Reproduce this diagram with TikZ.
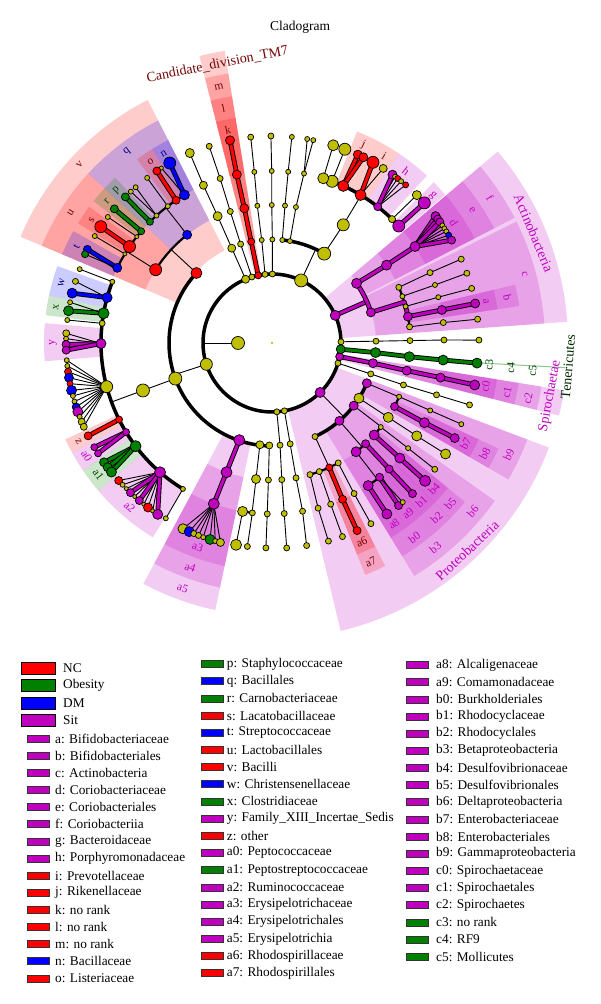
\documentclass[tikz,border=0pt]{standalone}
\usepackage{fontspec}
\setmainfont{Liberation Serif}
\pgfdeclarelayer{sect}
\pgfdeclarelayer{edges}
\pgfsetlayers{sect,edges,main}
\definecolor{cy}{rgb}{0.75,0.75,0}
\definecolor{cr}{rgb}{1,0,0}
\definecolor{cg}{rgb}{0,0.5,0}
\definecolor{cb}{rgb}{0,0,1}
\definecolor{cp}{rgb}{0.75,0,0.75}
\definecolor{lr}{rgb}{0.45,0.02,0.02}
\definecolor{lg}{rgb}{0,0.28,0}
\definecolor{lb}{rgb}{0,0,0.55}
\tikzset{
 nd/.style={circle,draw=black,line width=0.7pt,inner sep=0pt},
 ed/.style={line width=0.9pt,black},
 ak/.style={line width=3.5pt,black},
 am/.style={line width=2.2pt,black},
 lab/.style={inner sep=0pt,font=\fontsize{11.5}{11.5}\selectfont},
 plab/.style={inner sep=0pt,font=\fontsize{14}{14}\selectfont},
 sw/.style={draw=black!80,line width=0.6pt,minimum width=22pt,minimum height=7pt,inner sep=0pt},
 bsw/.style={draw=black,line width=0.6pt,minimum width=34pt,minimum height=12pt,inner sep=0pt},
 lt/.style={anchor=west,inner sep=0pt,font=\fontsize{13.3}{13.3}\selectfont},
}
\newcommand\clN[5]{\node[nd,fill=#1,minimum size=#4 pt] (#5) at (#2:#3) {};}
\newcommand\clC[2]{\draw[line width=4.8pt,black,line join=round] #2; \draw[line width=3pt,#1,line join=round] #2;}
\newcommand\clS[5]{\fill[#1,fill opacity=0.2] (#2:#4) arc[start angle=#2,end angle=#3,radius=#4] -- (#3:#5) arc[start angle=#3,end angle=#2,radius=#5] -- cycle;}
\newcommand\clA[4]{\draw[#1] (#2:#4) arc[start angle=#2,end angle=#3,radius=#4];}
\newcommand\clL[6]{\node[lab,text=#1,rotate=#4] (#6) at (#2:#3) {#5};}
\begin{document}
\begin{tikzpicture}[x=1pt,y=1pt]
\useasboundingbox (0,0) rectangle (600,1004);
\node[inner sep=0pt,font=\fontsize{13.5}{13.5}\selectfont] (title) at (300,977) {Cladogram};
\begin{scope}[shift={(272,661)}]
% ---------------- nodes ----------------
\node[circle,fill=cy,minimum size=2.5pt,inner sep=0pt] (root) at (0,0) {};
\clN{cy}{180}{34}{13}{king}
% phyla
\clN{cy}{198}{69}{12}{firm}
\clN{cy}{274}{69}{6}{pA}
\clN{cy}{280.4}{69}{6}{pB}
\clN{cp}{314.2}{69}{10}{prot}
\clN{cy}{343}{69}{6}{pC}
\clN{cp}{348.6}{69}{8}{spir}
\clN{cg}{354.8}{69}{9}{tene}
\clN{cy}{1}{69}{6}{pD}
\clN{cp}{23.6}{69}{10}{acti}
\clN{cy}{65}{69}{13}{bact}
\clN{cy}{89.7}{69}{6}{pE}
\clN{cy}{95.8}{69}{6}{pF}
\clN{cr}{101.5}{69}{7}{tm7}
\clN{cy}{107}{69}{6}{pG}
\clN{cy}{112.5}{69}{8}{pH}
% Firmicutes classes
\clN{cr}{137.2}{103}{11}{bacil}
\clN{cy}{200.2}{103}{13}{clos}
\clN{cp}{251.4}{102.5}{11}{erys}
\clN{cy}{263.2}{102.5}{8}{nega}
\clN{cy}{268.5}{102.5}{7}{fcE}
% Bacilli
\clN{cb}{128.1}{137.5}{9}{qo}
\clN{cr}{147.8}{137.5}{12}{uo}
\clN{cb}{120.6}{172}{10}{nf} \clN{cb}{119.6}{207}{12}{nl1} \clN{cy}{122.3}{207}{4}{nl2}
\clN{cr}{123.9}{172}{8}{of} \clN{cr}{123.8}{207}{8}{ol}
\clN{cy}{127.3}{172}{5}{qf3} \clN{cy}{127.1}{207}{5}{qf3l}
\clN{cy}{132.2}{172}{5}{qf4} \clN{cy}{131.2}{207}{5}{qf4a} \clN{cy}{133}{207}{5}{qf4b}
\clN{cg}{135.2}{172}{7}{pf} \clN{cg}{135.1}{207}{8}{pl}
\clN{cg}{139.5}{172}{7}{rf} \clN{cg}{139.6}{207}{8}{rl}
\clN{cy}{141.8}{172}{4}{uf2} \clN{cy}{142.5}{207}{5}{uf2l}
\clN{cr}{145.9}{172}{12}{sf} \clN{cr}{145.8}{207}{12}{sl}
\clN{cy}{148.8}{172}{4}{uf4} \clN{cy}{148.9}{207}{5}{uf4l}
\clN{cb}{154.1}{172}{9}{tf} \clN{cb}{153.1}{207}{8}{tl1} \clN{cg}{154.6}{207}{7}{tl2}
% Clostridiales
\clN{cy}{200.2}{137.5}{13}{clo}
\clN{cy}{159}{171}{5}{cf1} \clN{cy}{159}{206}{5}{cf1l}
\clN{cb}{164.6}{171}{10}{wf} \clN{cy}{162.6}{206}{6}{wl1} \clN{cb}{166}{206}{10}{wl2}
\clN{cg}{170}{171}{11}{xf} \clN{cy}{168.6}{206}{5}{xl1} \clN{cg}{171}{206}{10}{xl2}
\clN{cy}{173.4}{171}{6}{cf4} \clN{cy}{173.6}{206}{5}{cf4l}
\clN{cp}{180.2}{171}{10}{yf} \clN{cy}{177.3}{206}{7}{yl1} \clN{cy}{178.8}{206}{5}{yl2} \clN{cp}{180.4}{206}{8}{yl3} \clN{cp}{182}{206}{8}{yl4}
\clN{cy}{194.8}{171}{12}{lach}
\foreach \a/\c/\d [count=\i] in {184.8/cy/5,186.4/cy/5,188/cr/7,189.7/cb/9,191.4/cr/6,193.3/cb/10,194.9/cy/5,196.5/cy/5,198.1/cb/8,199.5/cp/10,201/cy/5,202.5/cy/7,204/cy/7} {\clN{\c}{\a}{206}{\d}{lachl\i}}
\clN{cr}{206.6}{171}{7}{zf} \clN{cr}{206.8}{206}{8}{zl}
\clN{cp}{211.4}{171}{7}{a0f} \clN{cp}{210.4}{206}{7}{a0la} \clN{cp}{212.4}{206}{7}{a0lb}
\clN{cg}{217.1}{171}{11}{a1f} \clN{cg}{215.4}{206}{9}{a1la} \clN{cg}{217.1}{206}{9}{a1lb} \clN{cg}{218.8}{206}{10}{a1lc}
\clN{cp}{229.1}{171}{11}{a2f}
\foreach \a/\c/\d [count=\i] in {221.9/cr/8,223.5/cy/5,225/cy/4,226.6/cp/8,228.2/cy/4,229.9/cp/8,231.5/cy/4,233/cr/9,234.6/cy/4,236.3/cp/10} {\clN{\c}{\a}{206}{\d}{a2l\i}}
\clN{cy}{238.6}{171}{5}{cf11} \clN{cy}{238.8}{205}{5}{cf11l}
% Erysipelotrichia
\clN{cp}{250.6}{137}{11}{a4o} \clN{cp}{250.1}{171}{11}{a3f}
\foreach \a/\c/\d [count=\i] in {244.4/cy/10,246.3/cb/10,247.7/cy/6,249.1/cy/6,250.5/cy/5,252.5/cg/10,254/cy/5,255.5/cy/8} {\clN{\c}{\a}{206}{\d}{a3l\i}}
% Negativicutes etc
\clN{cy}{263.3}{137}{9}{ngo} \clN{cy}{260.1}{171}{10}{ngf1} \clN{cy}{259.9}{205}{11}{ngl1} \clN{cy}{263.4}{171}{6}{ngf2} \clN{cy}{263.1}{205}{6}{ngl2}
\clN{cy}{268.5}{137}{6}{fcEo} \clN{cy}{268.4}{171}{6}{fcEf} \clN{cy}{268.3}{205}{6}{fcEl}
\clN{cy}{274.5}{102.5}{6}{pAc} \clN{cy}{274.1}{137}{6}{pAo} \clN{cy}{274.1}{171}{6}{pAf} \clN{cy}{274.1}{205.5}{6}{pAl}
\clN{cy}{280.2}{102.5}{6}{pBc} \clN{cy}{280.1}{137}{6}{pBo} \clN{cy}{280.3}{171}{6}{pBf} \clN{cy}{279.7}{205.5}{6}{pBl}
% Proteobacteria
\clN{cy}{294.7}{103}{6}{alp}
\clN{cp}{310.9}{103}{9}{bet}
\clN{cp}{322.5}{103}{9}{del}
\clN{cy}{327.6}{103}{10}{pq}
\clN{cp}{337}{103}{9}{gam}
\clN{cy}{286.1}{137}{6}{al1} \clN{cy}{285.6}{171.5}{6}{al1f} \clN{cy}{285.9}{206}{6}{al1l}
\clN{cy}{290.2}{137}{6}{al2} \clN{cy}{290}{171.5}{6}{al2f} \clN{cy}{290}{206}{6}{al2l}
\clN{cr}{294.7}{137}{7}{a7o} \clN{cr}{294.3}{171.5}{8}{a6f} \clN{cr}{294.4}{206}{8}{a6l}
\clN{cy}{298.9}{137}{6}{al4} \clN{cy}{298.6}{171.5}{6}{al4f} \clN{cy}{298.7}{206}{6}{al4l}
\clN{cp}{307.7}{137.5}{10}{b0o}
\clN{cp}{304}{172}{10}{a8f} \clN{cp}{303.9}{206}{10}{a8l}
\clN{cp}{308.7}{172}{8}{a9f} \clN{cp}{307.9}{206}{8}{a9la} \clN{cy}{309.4}{206}{5}{a9lb}
\clN{cp}{312.9}{137.5}{8}{b2o} \clN{cp}{312.9}{172}{8}{b1f} \clN{cp}{313}{206}{8}{b1l}
\clN{cp}{318}{137.5}{10}{b5o} \clN{cp}{318}{172}{10}{b4f} \clN{cp}{318}{206}{11}{b4l}
\clN{cy}{322.3}{137.5}{5}{dq2} \clN{cy}{322.3}{172}{5}{dq2f} \clN{cy}{322.2}{206}{6}{dq2l}
\clN{cy}{327.4}{138}{10}{pqo} \clN{cy}{327.3}{172}{10}{pqf} \clN{cy}{327.4}{206}{10}{pql}
\clN{cp}{332.6}{138}{8}{b8o} \clN{cp}{332.4}{172}{10}{b7f} \clN{cp}{332.5}{206}{9}{b7l}
\clN{cy}{337.1}{138}{5}{gl2} \clN{cy}{336.9}{172}{5}{gl2f} \clN{cy}{336.8}{206}{5}{gl2l}
% small phyla right
\clN{cy}{342.6}{103.5}{6}{pCc} \clN{cy}{342.3}{138}{6}{pCo} \clN{cy}{342.5}{172.5}{6}{pCf} \clN{cy}{342.6}{207}{6}{pCl}
\clN{cp}{348.7}{103}{9}{c2c} \clN{cp}{348.4}{137.5}{9}{c1o} \clN{cp}{348.4}{172}{9}{c0f} \clN{cp}{348.3}{207}{10}{spl}
\clN{cg}{354.7}{104}{10}{c5c} \clN{cg}{354.3}{138}{10}{c4o} \clN{cg}{354.3}{172}{10}{c3f} \clN{cg}{354.4}{206}{10}{tel}
\clN{cy}{1}{104}{6}{pDc} \clN{cy}{1}{138}{6}{pDo} \clN{cy}{1}{172}{6}{pDf} \clN{cy}{0.8}{207}{6}{pDl}
% Actinobacteria
\clN{cp}{17.2}{103.5}{9}{ccl}
\clN{cp}{35.2}{103.5}{10}{fcl}
\clN{cy}{23.7}{138.5}{6}{ac1} \clN{cy}{24}{173}{6}{ac1f} \clN{cy}{23.9}{207}{6}{ac1l}
\clN{cy}{19.7}{138.5}{5}{ac2} \clN{cy}{19.6}{173}{5}{ac2f} \clN{cy}{19.7}{207}{6}{ac2l}
\clN{cy}{15.3}{138.5}{5}{ac3} \clN{cy}{15.4}{172.5}{5}{ac3f} \clN{cy}{15.3}{207}{6}{ac3l}
\clN{cp}{11}{138.5}{9}{bo} \clN{cp}{11}{173}{9}{af} \clN{cp}{11}{207}{9}{al}
\clN{cy}{6.7}{138.5}{6}{ac5} \clN{cy}{6.8}{172.5}{6}{ac5f} \clN{cy}{6.6}{207}{6}{ac5l}
\clN{cp}{34.2}{138.5}{10}{eo} \clN{cp}{34}{172.5}{10}{df}
\foreach \a/\c/\d [count=\i] in {37.8/cp/9,36.8/cp/8,35.8/cp/8,34.6/cy/5,33.6/cy/5,32.6/cy/5,31.4/cb/6,29.8/cp/8} {\clN{\c}{\a}{207}{\d}{dfl\i}}
% Bacteroidetes
\clN{cy}{59.7}{103.5}{13}{bcl}
\clN{cy}{80}{103.5}{5}{bc2} \clN{cy}{80}{138}{5}{bc2o} \clN{cy}{79.3}{172.5}{5}{bc2f} \clN{cy}{80.2}{207}{5}{bc2la} \clN{cy}{78.5}{207}{5}{bc2lb}
\clN{cy}{84.3}{103.5}{5}{bc3} \clN{cy}{84.6}{138}{5}{bc3o} \clN{cy}{84.6}{172}{5}{bc3f} \clN{cy}{84.5}{207}{5}{bc3l}
\clN{cy}{58.9}{138}{12}{bor}
\clN{cp}{42.7}{172.5}{12}{gf} \clN{cp}{42.6}{207}{12}{gl}
\clN{cy}{45.9}{172.5}{7}{bf2} \clN{cy}{45.6}{207}{9}{bf2l}
\clN{cp}{52.2}{172.5}{8}{hf}
\foreach \a/\c/\d [count=\i] in {54.4/cp/9,53.5/cy/5,52.6/cr/6,51.4/cy/5,49.8/cr/6} {\clN{\c}{\a}{207}{\d}{hl\i}}
\clN{cr}{59.1}{172.5}{11}{if} \clN{cr}{60.8}{207}{12}{ila} \clN{cy}{57.5}{207}{8}{ilb}
\clN{cr}{65.6}{172.5}{11}{jf} \clN{cr}{65.5}{207}{9}{jla} \clN{cr}{63.8}{207}{9}{jlb}
\clN{cy}{69.6}{172.5}{12}{bf6} \clN{cy}{69.4}{207}{12}{bf6l}
\clN{cy}{72.7}{172.5}{11}{bf7} \clN{cy}{72.8}{207}{11}{bf7l}
% top chains
\clN{cy}{89.8}{103.5}{5}{pEc} \clN{cy}{90.1}{138}{5}{pEo} \clN{cy}{90.1}{172}{5}{pEf} \clN{cy}{90.3}{207}{6}{pEl}
\clN{cy}{95.7}{103.5}{5}{pFc} \clN{cy}{96.1}{138}{5}{pFo} \clN{cy}{95.9}{172}{5}{pFf} \clN{cy}{95.9}{207}{6}{pFl}
\clN{cr}{101.6}{103.5}{7}{mc} \clN{cr}{101.6}{137.5}{9}{lo} \clN{cr}{101.8}{172}{9}{kf} \clN{cr}{101.7}{207}{9}{kl}
\clN{cy}{107.6}{103.8}{6}{pGc} \clN{cy}{107.6}{138}{6}{pGo} \clN{cy}{107.5}{172.5}{6}{pGf} \clN{cy}{107.7}{206.5}{6}{pGl}
\clN{cy}{113}{103}{8}{pHc} \clN{cy}{113.2}{138}{9}{pHo} \clN{cy}{113.5}{172}{8}{pHf} \clN{cy}{113.4}{207}{9}{pHl}

% ---------------- edges ----------------
\begin{pgfonlayer}{edges}
\draw[ak] (0,0) circle[radius=69];
\draw[ed] (king.center) -- (180:69);
% Firmicutes
\draw[ed] (firm.center) -- (198:103);
\clA{ak}{137.2}{268.5}{103}
\draw[ed] (bacil.center) -- (137.2:137.5);
\clA{am}{128.1}{147.8}{137.5}
\draw[ed] (qo.center) -- (128.1:172);
\clA{am}{120.6}{135.2}{172}
\clC{cb}{(nf.center) -- (nl1.center)}
\draw[ed] (nf.center) -- (nl2.center);
\clC{cr}{(of.center) -- (ol.center)}
\draw[ed] (qf3.center) -- (qf3l.center);
\draw[ed] (qf4.center) -- (qf4a.center); \draw[ed] (qf4.center) -- (qf4b.center);
\clC{cg}{(pf.center) -- (pl.center)}
\draw[ed] (uo.center) -- (147.8:172);
\clA{am}{139.5}{154.1}{172}
\clC{cg}{(rf.center) -- (rl.center)}
\draw[ed] (uf2.center) -- (uf2l.center);
\clC{cr}{(sf.center) -- (sl.center)}
\draw[ed] (uf4.center) -- (uf4l.center);
\clC{cb}{(tf.center) -- (tl1.center)}
\draw[ed] (tf.center) -- (tl2.center);
% Clostridia
\draw[ed] (clos.center) -- (clo.center) -- (200.2:171);
\clA{ak}{159}{238.6}{171}
\draw[ed] (cf1.center) -- (cf1l.center);
\clC{cb}{(wf.center) -- (wl2.center)}
\draw[ed] (wf.center) -- (wl1.center);
\clC{cg}{(xf.center) -- (xl2.center)}
\draw[ed] (xf.center) -- (xl1.center);
\draw[ed] (cf4.center) -- (cf4l.center);
\draw[ed] (yf.center) -- (yl1.center); \draw[ed] (yf.center) -- (yl2.center);
\clC{cp}{(yf.center) -- (yl3.center)}
\clC{cp}{(yf.center) -- (yl4.center)}
\foreach \i in {1,...,13} {\draw[ed] (lach.center) -- (lachl\i.center);}
\clC{cr}{(zf.center) -- (zl.center)}
\clC{cp}{(a0f.center) -- (a0la.center)}
\clC{cp}{(a0f.center) -- (a0lb.center)}
\clC{cg}{(a1f.center) -- (a1la.center)}
\clC{cg}{(a1f.center) -- (a1lb.center)}
\clC{cg}{(a1f.center) -- (a1lc.center)}
\foreach \i in {1,2,3,5,7,8,9} {\draw[ed] (a2f.center) -- (a2l\i.center);}
\clC{cp}{(a2f.center) -- (a2l4.center)}
\clC{cp}{(a2f.center) -- (a2l6.center)}
\clC{cp}{(a2f.center) -- (a2l10.center)}
\draw[ed] (cf11.center) -- (cf11l.center);
\clC{cp}{(erys.center) -- (a4o.center) -- (a3f.center)}
\foreach \i in {1,...,8} {\draw[ed] (a3f.center) -- (a3l\i.center);}
\draw[ed] (nega.center) -- (ngo.center) -- (263.3:171);
\clA{am}{260.1}{263.4}{171}
\draw[ed] (ngf1.center) -- (ngl1.center);
\draw[ed] (ngf2.center) -- (ngl2.center);
\draw[ed] (fcE.center) -- (fcEo.center) -- (fcEf.center) -- (fcEl.center);
\draw[ed] (pA.center) -- (pAc.center) -- (pAo.center) -- (pAf.center) -- (pAl.center);
\draw[ed] (pB.center) -- (pBc.center) -- (pBo.center) -- (pBf.center) -- (pBl.center);
% Proteobacteria
\draw[ed] (prot.center) -- (314.2:103);
\clA{ak}{294.7}{337}{103}
\draw[ed] (alp.center) -- (a7o.center);
\clA{am}{286.1}{298.9}{137}
\draw[ed] (al1.center) -- (al1f.center) -- (al1l.center);
\draw[ed] (al2.center) -- (al2f.center) -- (al2l.center);
\draw[ed] (al4.center) -- (al4f.center) -- (al4l.center);
\clC{cr}{(a7o.center) -- (a6f.center) -- (a6l.center)}
\draw[ed] (bet.center) -- (310.9:137.5);
\clA{am}{307.7}{312.9}{137.5}
\draw[ed] (b0o.center) -- (307.7:172);
\clA{am}{304}{308.7}{172}
\clC{cp}{(a8f.center) -- (a8l.center)}
\clC{cp}{(a9f.center) -- (a9la.center)}
\draw[ed] (a9f.center) -- (a9lb.center);
\clC{cp}{(b2o.center) -- (b1f.center) -- (b1l.center)}
\draw[ed] (del.center) -- (322.5:137.5);
\clA{am}{318}{322.5}{137.5}
\clC{cp}{(b5o.center) -- (b4f.center) -- (b4l.center)}
\draw[ed] (dq2.center) -- (dq2f.center) -- (dq2l.center);
\draw[ed] (pq.center) -- (pqo.center) -- (pqf.center) -- (pql.center);
\draw[ed] (gam.center) -- (337:138);
\clA{am}{332.6}{337.1}{138}
\clC{cp}{(b8o.center) -- (b7f.center) -- (b7l.center)}
\draw[ed] (gl2.center) -- (gl2f.center) -- (gl2l.center);
% right small phyla
\draw[ed] (pC.center) -- (pCc.center) -- (pCo.center) -- (pCf.center) -- (pCl.center);
\clC{cp}{(spir.center) -- (c2c.center) -- (c1o.center) -- (c0f.center) -- (spl.center)}
\clC{cg}{(tene.center) -- (c5c.center) -- (c4o.center) -- (c3f.center) -- (tel.center)}
\draw[ed] (pD.center) -- (pDc.center) -- (pDo.center) -- (pDf.center) -- (pDl.center);
% Actinobacteria
\clC{cp}{(acti.center) -- (23.6:103.5)}
\clC{cp}{(17.2:103.5) arc[start angle=17.2,end angle=35.2,radius=103.5]}
\draw[ed] (ccl.center) -- (17.2:138.5);
\clA{am}{6.7}{23.7}{138.5}
\clC{cp}{(ccl.center) -- (17.2:138.5) arc[start angle=17.2,end angle=11,radius=138.5]}
\draw[ed] (ac1.center) -- (ac1f.center) -- (ac1l.center);
\draw[ed] (ac2.center) -- (ac2f.center) -- (ac2l.center);
\draw[ed] (ac3.center) -- (ac3f.center) -- (ac3l.center);
\draw[ed] (ac5.center) -- (ac5f.center) -- (ac5l.center);
\clC{cp}{(bo.center) -- (af.center) -- (al.center)}
\clC{cp}{(fcl.center) -- (eo.center) -- (df.center)}
\foreach \i in {4,...,7} {\draw[ed] (df.center) -- (dfl\i.center);}
\foreach \i in {1,2,3,8} {\clC{cp}{(df.center) -- (dfl\i.center)}}
% Bacteroidetes
\draw[ed] (bact.center) -- (65:103.5);
\clA{ak}{59.7}{84.3}{103.5}
\draw[ed] (bcl.center) -- (bor.center) -- (58.9:172.5);
\clA{ak}{42.7}{72.7}{172.5}
\clC{cp}{(gf.center) -- (gl.center)}
\draw[ed] (bf2.center) -- (bf2l.center);
\foreach \i in {2,...,5} {\draw[ed] (hf.center) -- (hl\i.center);}
\clC{cp}{(hf.center) -- (hl1.center)}
\clC{cr}{(if.center) -- (ila.center)}
\draw[ed] (if.center) -- (ilb.center);
\clC{cr}{(jf.center) -- (jla.center)}
\clC{cr}{(jf.center) -- (jlb.center)}
\draw[ed] (bf6.center) -- (bf6l.center);
\draw[ed] (bf7.center) -- (bf7l.center);
\draw[ed] (bc2.center) -- (bc2o.center) -- (bc2f.center) -- (bc2la.center);
\draw[ed] (bc2f.center) -- (bc2lb.center);
\draw[ed] (bc3.center) -- (bc3o.center) -- (bc3f.center) -- (bc3l.center);
% top chains
\draw[ed] (pE.center) -- (pEc.center) -- (pEo.center) -- (pEf.center) -- (pEl.center);
\draw[ed] (pF.center) -- (pFc.center) -- (pFo.center) -- (pFf.center) -- (pFl.center);
\clC{cr}{(tm7.center) -- (mc.center) -- (lo.center) -- (kf.center) -- (kl.center)}
\draw[ed] (pG.center) -- (pGc.center) -- (pGo.center) -- (pGf.center) -- (pGl.center);
\draw[ed] (pH.center) -- (pHc.center) -- (pHo.center) -- (pHf.center) -- (pHl.center);
\end{pgfonlayer}

% ---------------- shaded clades ----------------
\begin{pgfonlayer}{sect}
% phylum
\clS{cr}{99.2}{104.2}{69}{296}
\clS{cp}{4.1}{40.3}{71}{296}
\clS{cp}{283.4}{339.3}{70}{296}
\clS{cp}{345.8}{350.8}{70}{296}
% class
\clS{cr}{99.2}{104.2}{103}{273}
\clS{cp}{27.3}{40.3}{104}{273}
\clS{cp}{4.1}{26.4}{104}{273}
\clS{cr}{117.1}{157.1}{104}{273}
\clS{cp}{241.9}{258}{103}{273}
\clS{cp}{301.4}{315.5}{103}{273}
\clS{cp}{315.5}{324.7}{103}{273}
\clS{cp}{330}{339.3}{103}{273}
\clS{cp}{345.8}{350.8}{103}{273}
% order
\clS{cr}{99.2}{104.2}{137.5}{250}
\clS{cp}{27.3}{40.3}{138.5}{250}
\clS{cp}{8.5}{13.5}{138.5}{250}
\clS{cb}{117.1}{137.3}{137.5}{250}
\clS{cr}{137.3}{157.1}{137.5}{250}
\clS{cp}{241.9}{258}{137}{250}
\clS{cr}{291.9}{296.9}{137}{250}
\clS{cp}{301.4}{311}{137.5}{250}
\clS{cp}{311}{315.5}{137.5}{250}
\clS{cp}{315.5}{320.5}{137.5}{250}
\clS{cp}{330}{335}{138}{250}
\clS{cp}{345.8}{350.8}{137.5}{250}
% family
\clS{cr}{99.2}{104.2}{172}{228}
\clS{cp}{27.3}{40.3}{172.5}{228}
\clS{cp}{8.5}{13.5}{173}{228}
\clS{cp}{40.6}{44.8}{172.5}{228}
\clS{cp}{47.2}{56.2}{172.5}{228}
\clS{cr}{56.2}{62.2}{172.5}{228}
\clS{cr}{62.2}{68.1}{172.5}{228}
\clS{cb}{117.1}{121.7}{172}{228}
\clS{cr}{121.7}{126.3}{172}{228}
\clS{cg}{133.5}{137.3}{172}{228}
\clS{cg}{137.3}{141.5}{172}{228}
\clS{cr}{143.3}{148.3}{172}{228}
\clS{cb}{150.6}{157.1}{172}{228}
\clS{cb}{160.3}{168}{171}{228}
\clS{cg}{168}{173}{171}{228}
\clS{cp}{175}{184.6}{171}{228}
\clS{cr}{205}{208.8}{171}{228}
\clS{cp}{208.8}{214}{171}{228}
\clS{cg}{214}{220.5}{171}{228}
\clS{cp}{220.5}{238.5}{171}{228}
\clS{cp}{241.9}{258}{171}{228}
\clS{cr}{291.9}{296.9}{171.5}{228}
\clS{cp}{301.4}{306.3}{172}{228}
\clS{cp}{306.3}{311}{172}{228}
\clS{cp}{311}{315.5}{172}{228}
\clS{cp}{315.5}{320.5}{172}{228}
\clS{cp}{330}{335}{172}{228}
\clS{cp}{345.8}{350.8}{172}{228}
\draw[cg!45,line width=1pt] (354.5:208) -- (355.2:294);
\end{pgfonlayer}

% ---------------- labels ----------------
\clL{cp}{11}{218}{-79}{a}{Lfa}
\clL{cp}{33.5}{218}{-56.5}{d}{Lfd}
\clL{cp}{42.5}{218}{-47.5}{g}{Lfg}
\clL{cp}{52}{218}{-38}{h}{Lfh}
\clL{lr}{59}{218}{-31}{i}{Lfi}
\clL{lr}{65.2}{218}{-24.8}{j}{Lfj}
\clL{lr}{101.7}{218}{11.7}{k}{Lfk}
\clL{lb}{119.8}{218}{29.8}{n}{Lfn}
\clL{lr}{123.9}{218}{33.9}{o}{Lfo}
\clL{lg}{135.5}{218}{45.5}{p}{Lfp}
\clL{lg}{139.3}{218}{49.3}{r}{Lfr}
\clL{lr}{145.8}{218}{55.8}{s}{Lfs}
\clL{lb}{153.8}{218}{63.8}{t}{Lft}
\clL{lb}{164}{219}{74}{w}{Lfw}
\clL{lg}{170.5}{219}{80.5}{x}{Lfx}
\clL{cp}{180}{219}{90}{y}{Lfy}
\clL{lr}{207}{217}{-63}{z}{Lfz}
\clL{cp}{211.4}{217}{-58.6}{a0}{Lfa0}
\clL{lg}{217.2}{218}{-52.8}{a1}{Lfa1}
\clL{cp}{229}{217}{-41}{a2}{Lfa2}
\clL{cp}{250}{217}{-20}{a3}{Lfa3}
\clL{lr}{294.3}{218}{24.3}{a6}{Lfa6}
\clL{cp}{304}{218}{34}{a8}{Lfa8}
\clL{cp}{308.6}{218}{38.6}{a9}{Lfa9}
\clL{cp}{313.3}{218}{43.3}{b1}{Lfb1}
\clL{cp}{318}{218}{48}{b4}{Lfb4}
\clL{cp}{332.6}{218}{62.6}{b7}{Lfb7}
\clL{cp}{348.4}{218}{78.4}{c0}{Lfc0}
\clL{lg}{354.2}{218}{84.2}{c3}{Lfc3}
\clL{cp}{11}{240}{-79}{b}{Lob}
\clL{cp}{33.5}{240}{-56.5}{e}{Loe}
\clL{lr}{101.7}{240}{11.7}{l}{Lol}
\clL{lb}{127.2}{240}{37.2}{q}{Loq}
\clL{lr}{147}{240}{57}{u}{Lou}
\clL{cp}{250}{239}{-20}{a4}{Loa4}
\clL{lr}{294.3}{240}{24.3}{a7}{Loa7}
\clL{cp}{306.2}{241}{36.2}{b0}{Lob0}
\clL{cp}{313.3}{240}{43.3}{b2}{Lob2}
\clL{cp}{318}{240}{48}{b5}{Lob5}
\clL{cp}{332.5}{240}{62.5}{b8}{Lob8}
\clL{cp}{348.2}{240}{78.2}{c1}{Loc1}
\clL{lg}{354.1}{240}{84.1}{c4}{Loc4}
\clL{cp}{15.3}{262}{-74.7}{c}{Lcc}
\clL{cp}{33.7}{262}{-56.3}{f}{Lcf}
\clL{lr}{101.7}{262}{11.7}{m}{Lcm}
\clL{lr}{137.2}{262}{47.2}{v}{Lcv}
\clL{cp}{250}{261}{-20}{a5}{Lca5}
\clL{cp}{308.6}{262}{38.6}{b3}{Lcb3}
\clL{cp}{320}{262}{50}{b6}{Lcb6}
\clL{cp}{334.7}{262}{64.7}{b9}{Lcb9}
\clL{cp}{347.7}{262}{77.7}{c2}{Lcc2}
\clL{lg}{354}{262}{84}{c5}{Lcc5}
\node[plab,text=lr,rotate=11.1] (Lp1) at (101.1:284) {Candidate\_division\_TM7};
\node[plab,text=cp,rotate=-67.2] (Lp2) at (22.8:284) {Actinobacteria};
\node[plab,text=cp,rotate=43.2] (Lp3) at (313.2:285) {Proteobacteria};
\node[plab,text=cp,rotate=79.5] (Lp4) at (349.2:283) {Spirochaetae};
\node[plab,text=lg!60!black,rotate=85.3] (Lp5) at (355.4:297) {Tenericutes};
\end{scope}

% ---------------- legend ----------------
\foreach \t/\c [count=\i from 0] in {NC/cr,Obesity/cg,DM/cb,Sit/cp} {
 \node[bsw,fill=\c] (bs\i) at (38,{335.5-17.2*\i}) {};
 \node[lt] (bt\i) at (63,{335.5-17.2*\i}) {\t};
}
\foreach \t/\c [count=\i from 0] in {a: Bifidobacteriaceae/cp,b: Bifidobacteriales/cp,c: Actinobacteria/cp,d: Coriobacteriaceae/cp,e: Coriobacteriales/cp,f: Coriobacteriia/cp,g: Bacteroidaceae/cp,h: Porphyromonadaceae/cp,i: Prevotellaceae/cr,j: Rikenellaceae/cr,k: no rank/cr,l: no rank/cr,m: no rank/cr,n: Bacillaceae/cb,o: Listeriaceae/cr} {
 \node[sw,fill=\c] (sa\i) at (38,{265.3-17.12*\i}) {};
 \node[lt] (ta\i) at (55,{265.3-17.12*\i}) {\t};
}
\foreach \t/\c [count=\i from 0] in {p: Staphylococcaceae/cg,q: Bacillales/cb,r: Carnobacteriaceae/cg,s: Lacatobacillaceae/cr,t: Streptococcaceae/cb,u: Lactobacillales/cr,v: Bacilli/cr,w: Christensenellaceae/cb,x: Clostridiaceae/cg,y: Family\_XIII\_Incertae\_Sedis/cp,z: other/cr,a0: Peptococcaceae/cp,a1: Peptostreptococcaceae/cg,a2: Ruminococcaceae/cp,a3: Erysipelotrichaceae/cp,a4: Erysipelotrichales/cp,a5: Erysipelotrichia/cp,a6: Rhodospirillaceae/cr,a7: Rhodospirillales/cr} {
 \node[sw,fill=\c] (sb\i) at (212.2,{340-17.18*\i}) {};
 \node[lt] (tb\i) at (226.7,{340-17.18*\i}) {\t};
}
\foreach \t/\c [count=\i from 0] in {a8: Alcaligenaceae/cp,a9: Comamonadaceae/cp,b0: Burkholderiales/cp,b1: Rhodocyclaceae/cp,b2: Rhodocyclales/cp,b3: Betaproteobacteria/cp,b4: Desulfovibrionaceae/cp,b5: Desulfovibrionales/cp,b6: Deltaproteobacteria/cp,b7: Enterobacteriaceae/cp,b8: Enterobacteriales/cp,b9: Gammaproteobacteria/cp,c0: Spirochaetaceae/cp,c1: Spirochaetales/cp,c2: Spirochaetes/cp,c3: no rank/cg,c4: RF9/cg,c5: Mollicutes/cg} {
 \node[sw,fill=\c] (sc\i) at (417.5,{339-17.16*\i}) {};
 \node[lt] (tc\i) at (436,{339-17.16*\i}) {\t};
}
\end{tikzpicture}
\end{document}
